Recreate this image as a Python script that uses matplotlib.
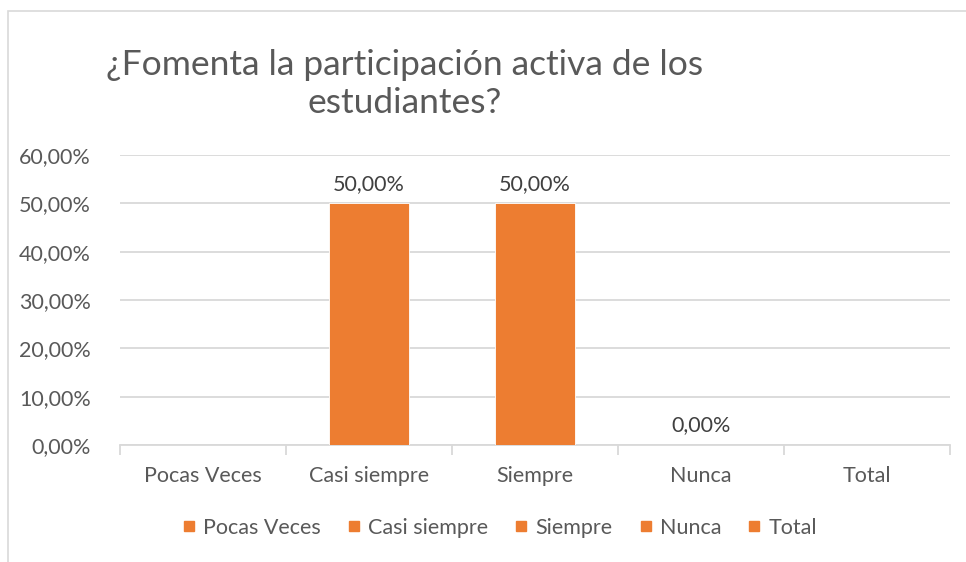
import numpy as np
import matplotlib
matplotlib.use("Agg")
import matplotlib.pyplot as plt
from matplotlib.lines import Line2D
from matplotlib.patches import Rectangle

# data
categories = ["Pocas Veces", "Casi siempre", "Siempre", "Nunca", "Total"]
values = [np.nan, 0.50, 0.50, 0.00, np.nan]
yticks = [0.0, 0.1, 0.2, 0.3, 0.4, 0.5, 0.6]
title = "¿Fomenta la participación activa de los\nestudiantes?"

orange = "#ED7D31"
grid_c = "#D9D9D9"
txt_c = "#595959"

plt.rcParams['font.family'] = ['Lato', 'DejaVu Sans']

fig = plt.figure(figsize=(9.66, 5.62), dpi=100)
# chart border (left/top visible)
fig.patches.append(Rectangle((8 / 966, -0.1), 1.2, (562 - 11) / 562 + 0.1,
                             transform=fig.transFigure, fill=False,
                             edgecolor=grid_c, linewidth=1.2))

ax = fig.add_axes([120 / 966, (562 - 445) / 562, 830 / 966, 290 / 562])
x = np.arange(len(categories))
ax.bar(x, np.nan_to_num(values), width=0.48, color=orange, edgecolor="white",
       linewidth=0.6, zorder=3)

for xi, v in zip(x, values):
    if not np.isnan(v):
        ax.annotate(f"{v * 100:.2f}%".replace(".", ","), (xi, v),
                    xytext=(0, 7), textcoords="offset points",
                    ha="center", va="bottom", fontsize=15.5, color="#404040")

ax.set_xlim(-0.5, len(categories) - 0.5)
ax.set_ylim(0, 0.6)
ax.set_yticks(yticks)
ax.set_yticklabels([f"{t * 100:.2f}%".replace(".", ",") for t in yticks])
ax.yaxis.grid(True, color=grid_c, linewidth=1.3, zorder=0)
ax.set_axisbelow(True)
ax.tick_params(axis="y", length=0, pad=21, labelsize=15.5, labelcolor=txt_c)

ax.set_xticks(x)
ax.set_xticklabels(categories)
ax.set_xticks(np.arange(len(categories) + 1) - 0.5, minor=True)
ax.tick_params(axis="x", which="major", length=0, pad=15, labelsize=15.5,
               labelcolor=txt_c)
ax.tick_params(axis="x", which="minor", length=7, width=1.3, color=grid_c)

for s in ["top", "right", "left"]:
    ax.spines[s].set_visible(False)
ax.spines["bottom"].set_color(grid_c)
ax.spines["bottom"].set_linewidth(1.3)

fig.text(405 / 966, 1 - 49 / 562, title, ha="center", va="top",
         fontsize=25.5, color=txt_c, linespacing=1.22)

handles = [Line2D([], [], marker="s", linestyle="none", color=orange,
                  markersize=6.5) for _ in categories]
fig.legend(handles, categories, loc="center", bbox_to_anchor=(499 / 966, 1 - 528 / 562),
           ncol=5, frameon=False, fontsize=15.5, labelcolor=txt_c,
           handlelength=0.7, handletextpad=0.3, columnspacing=1.2)

fig.savefig("out.png", dpi=100)
